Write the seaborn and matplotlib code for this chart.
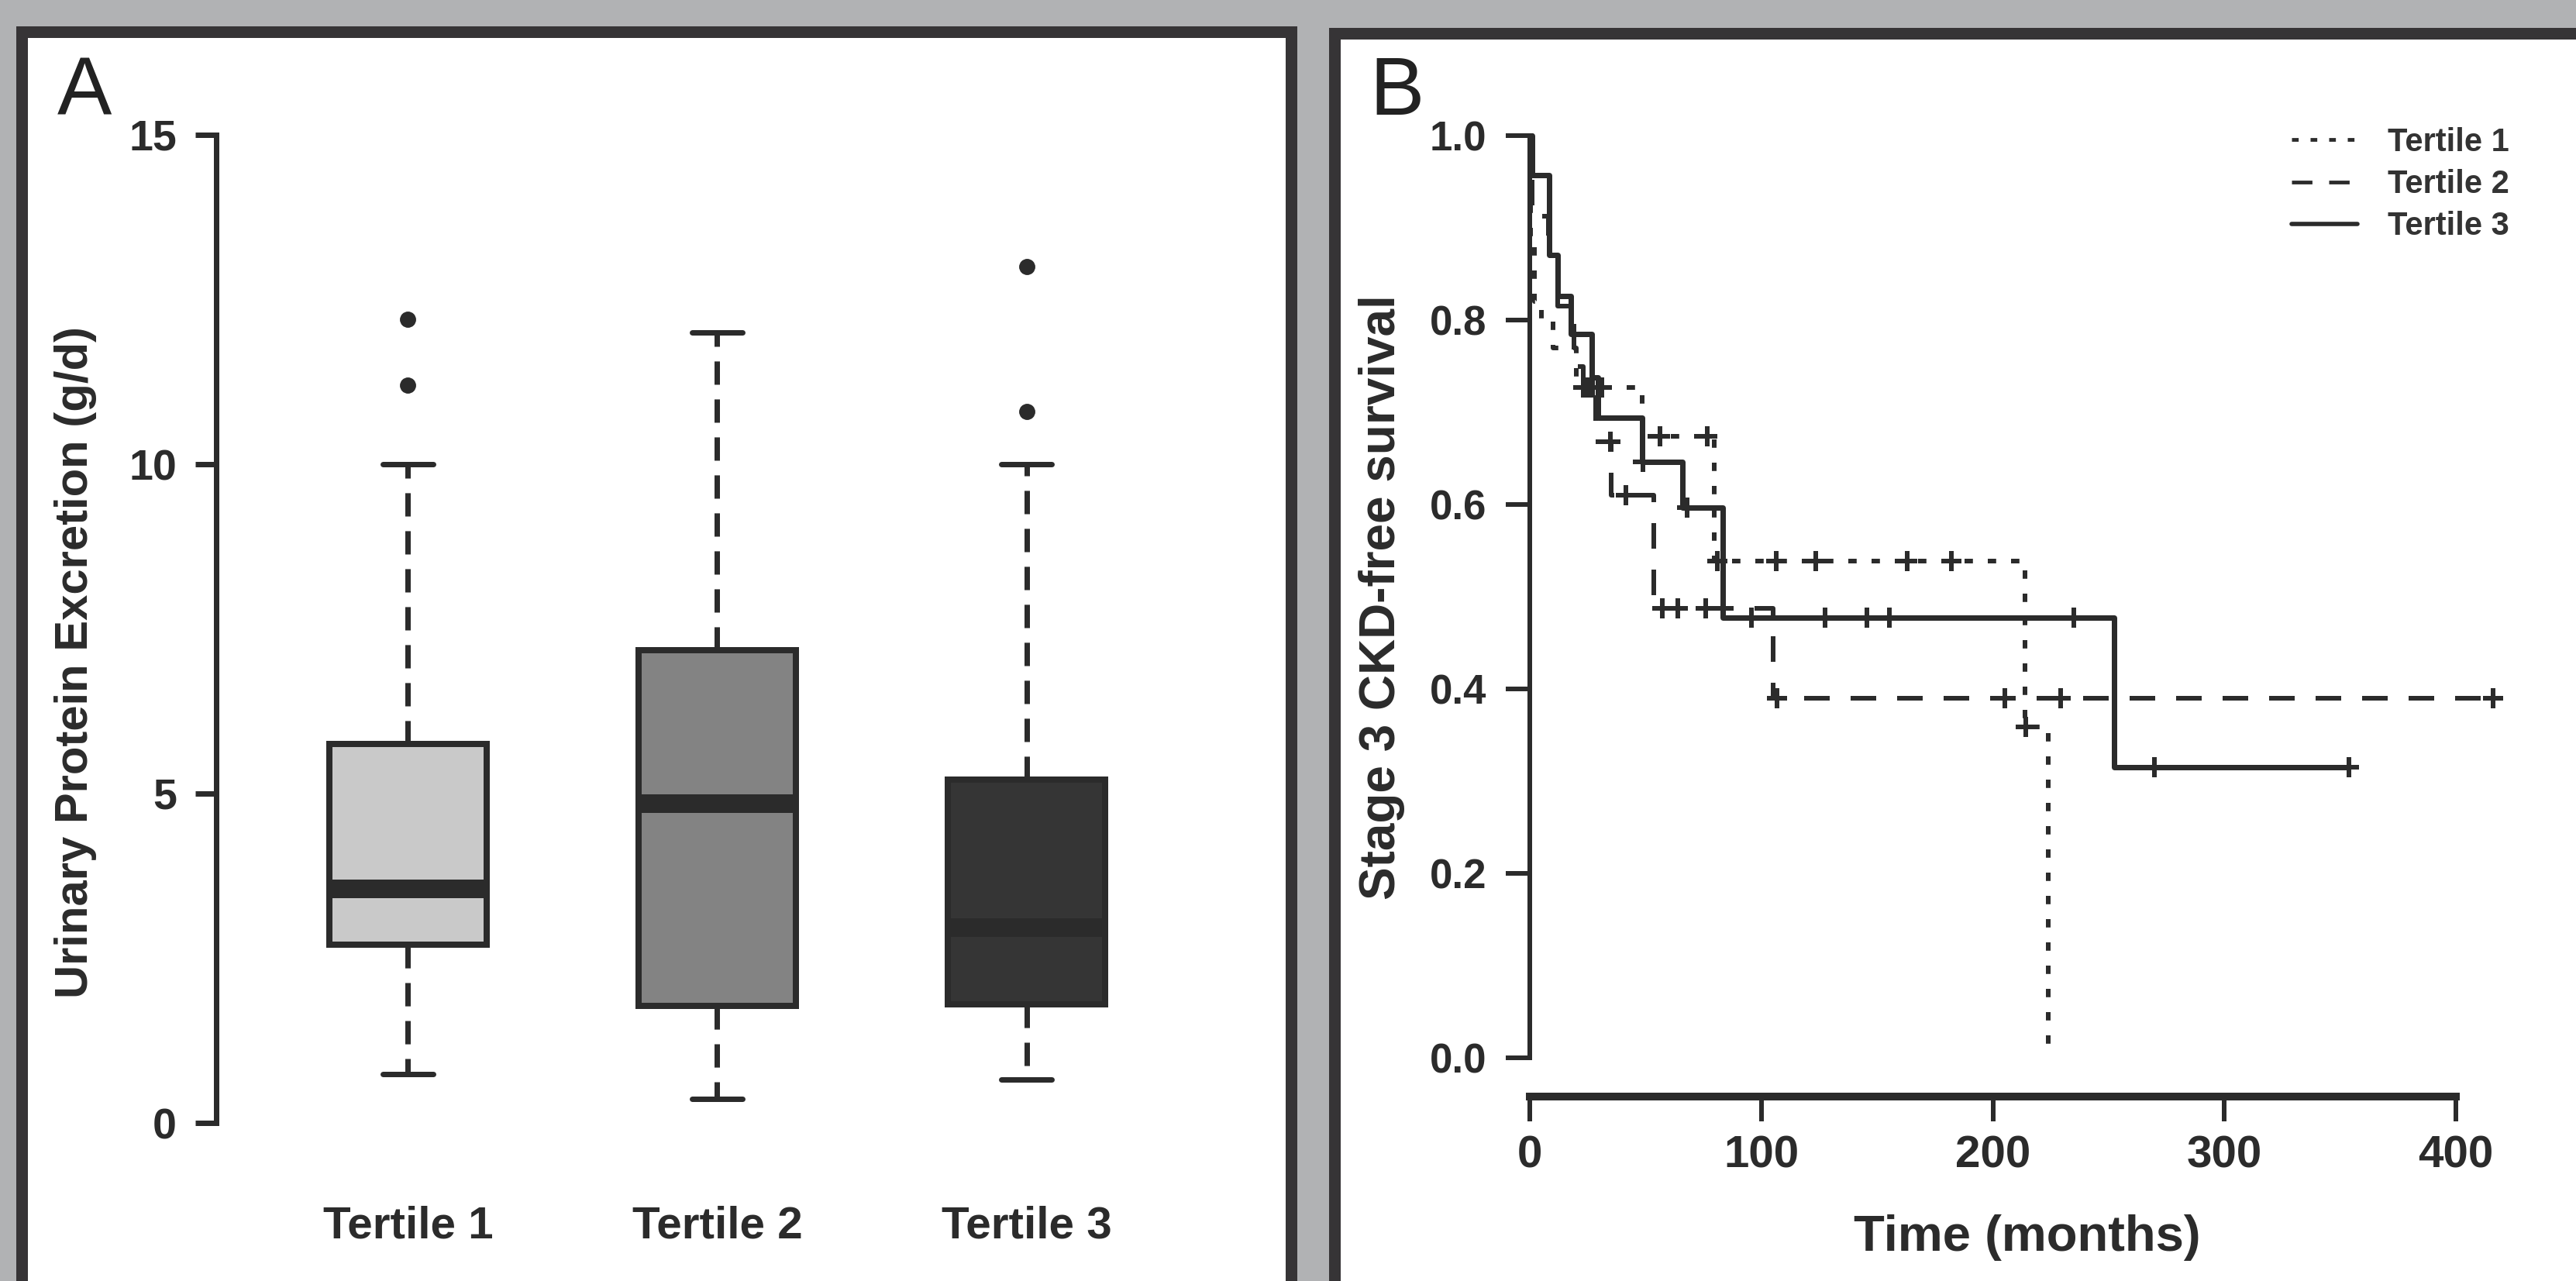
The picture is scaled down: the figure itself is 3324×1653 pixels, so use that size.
import numpy as np
import pandas as pd
import matplotlib
matplotlib.use('Agg')
import matplotlib.pyplot as plt
from matplotlib.patches import Rectangle
from matplotlib.lines import Line2D
import seaborn as sns

# ---- panel A: urinary protein excretion by tertile (five-number summaries)
groups = ['Tertile 1', 'Tertile 2', 'Tertile 3']
whislo = [0.74, 0.37, 0.66]
q1 = [2.71, 1.78, 1.80]
med = [3.55, 4.85, 2.96]
q3 = [5.75, 7.18, 5.21]
whishi = [10.0, 12.0, 10.0]
outliers = [[11.2, 12.2], [], [10.8, 13.0]]
box_colors = ['#c9c9c9', '#838383', '#353535']

# ---- panel B: Kaplan-Meier steps (time in months, survival)
t1_time = [0, 0.5, 2, 5, 10, 20, 48.6, 79.5, 213.9, 223.9]
t1_surv = [1.0, 0.88, 0.82, 0.80, 0.77, 0.727, 0.674, 0.539, 0.359, 0.0]
t1_end = 223.9
t1_cens = [23, 27, 31, 56.3, 76.5, 81, 106.3, 123.6, 163.0, 182.2, 214.3]

t2_time = [0, 1, 8, 12, 19, 23, 28.5, 35, 53.5, 105]
t2_surv = [1.0, 0.913, 0.87, 0.815, 0.75, 0.727, 0.668, 0.610, 0.487, 0.390]
t2_end = 416
t2_cens = [24.5, 26.5, 34.7, 41.5, 57.3, 63.9, 76, 106.8, 205.1, 229.3, 416]

t3_time = [0, 1, 8.3, 12.1, 17.8, 26.8, 29.5, 48.6, 65.9, 83.2, 252.5]
t3_surv = [1.0, 0.957, 0.871, 0.826, 0.785, 0.738, 0.694, 0.646, 0.597, 0.477, 0.315]
t3_end = 353.7
t3_cens = [49.0, 67.8, 95.7, 127.4, 145.7, 155.3, 235.0, 269.7, 353.7]

W, H = 3324, 1653
INK = '#2b2b2b'

sns.set_theme(style='ticks')
plt.rcParams['font.family'] = ['Liberation Sans', 'DejaVu Sans']
plt.rcParams['font.weight'] = 'bold'
plt.rcParams['axes.labelweight'] = 'bold'

fig = plt.figure(figsize=(W / 100, H / 100), dpi=100, facecolor='#b1b2b4')


def fx(x):
    return x / W


def fy(y):
    return 1 - y / H


def px(v):
    # pixels -> points
    return v * 0.72


# panel frames
for x0, y0, x1, y1 in [(20, 26, 1673, 1720), (1715, 28, 3400, 1720)]:
    fig.add_artist(Rectangle((fx(x0 + 7.5), fy(y1)), fx(x1 - x0 - 15), (y1 - y0 - 15) / H,
                             transform=fig.transFigure, facecolor='white',
                             edgecolor='#363436', linewidth=px(15), zorder=0))

fig.text(fx(74), fy(148), 'A', fontsize=76, fontweight='normal', color='#222222')
fig.text(fx(1767), fy(148), 'B', fontsize=76, fontweight='normal', color='#222222')

# ================= panel A
ylo, yhi = -0.6, 15.6
y0px, per = 1449, 85.0
bot, top = y0px - ylo * per, y0px - yhi * per
axA = fig.add_axes([fx(279), fy(bot), fx(1572 - 279), (bot - top) / H])
axA.set_facecolor('none')

stats = []
for i, g in enumerate(groups):
    stats.append(dict(label=g, whislo=whislo[i], q1=q1[i], med=med[i], q3=q3[i],
                      whishi=whishi[i], fliers=outliers[i]))

bp = axA.bxp(stats, positions=range(len(groups)), widths=0.51, capwidths=0.165,
             patch_artist=True,
             boxprops=dict(edgecolor=INK, linewidth=px(8)),
             medianprops=dict(color=INK, linewidth=px(24), solid_capstyle='butt'),
             whiskerprops=dict(color=INK, linewidth=px(7), linestyle=(0, (4.3, 2.7))),
             capprops=dict(color=INK, linewidth=px(7)),
             flierprops=dict(marker='o', markerfacecolor=INK, markeredgecolor=INK,
                             markersize=14))
for patch, c in zip(bp['boxes'], box_colors):
    patch.set_facecolor(c)

axA.set_xlim(-0.62, 2.62)
axA.set_ylim(ylo, yhi)
axA.set_yticks([0, 5, 10, 15])
for s in ['top', 'right', 'bottom']:
    axA.spines[s].set_visible(False)
axA.spines['left'].set_bounds(0, 15)
axA.spines['left'].set_linewidth(px(7))
axA.spines['left'].set_color(INK)
axA.tick_params(axis='y', length=px(27), width=px(7), color=INK, pad=px(24),
                labelsize=40, labelcolor=INK)
axA.tick_params(axis='x', length=0, pad=px(56), labelsize=42, labelcolor=INK)
axA.set_xticks(range(len(groups)))
axA.set_xticklabels(groups, fontweight='bold')
axA.set_ylabel('Urinary Protein Excretion (g/d)', fontsize=43, color=INK)
axA.yaxis.set_label_coords((125 - 279) / (1572 - 279), (bot - 855) / (bot - top))

# ================= panel B
xl, xr = 0, 430
yl, yh = -0.042, 1.045
xpx0, xper = 1974, 2.9875
ypx0, yper = 1365, 1190
left = xpx0 + xl * xper
right = xpx0 + xr * xper
bottomB = ypx0 - yl * yper
topB = ypx0 - yh * yper
axB = fig.add_axes([fx(left), fy(bottomB), fx(right - left), (bottomB - topB) / H])
axB.set_facecolor('none')

curves = [
    ('Tertile 1', t1_time, t1_surv, t1_end, t1_cens, (0, (1.8, 3.2)), px(6)),
    ('Tertile 2', t2_time, t2_surv, t2_end, t2_cens, (0, (5.5, 4.5)), px(6)),
    ('Tertile 3', t3_time, t3_surv, t3_end, t3_cens, '-', px(7)),
]
handles = []
for name, tt, ss, tend, cens, ls, lw in curves:
    xs = list(tt) + [tend]
    ys = list(ss) + [ss[-1]]
    df = pd.DataFrame({'time': xs, 'surv': ys})
    sns.lineplot(data=df, x='time', y='surv', ax=axB, estimator=None, sort=False,
                 drawstyle='steps-post', color=INK, linewidth=lw, linestyle=ls,
                 legend=False)
    # censor marks sit on the curve
    idx = np.searchsorted(np.asarray(tt), np.asarray(cens), side='right') - 1
    cs = np.asarray(ss)[idx]
    sns.scatterplot(x=cens, y=cs, ax=axB, marker='+', s=px(26) ** 2, color=INK,
                    linewidth=px(6), legend=False, zorder=3)
    handles.append(Line2D([], [], color=INK, linewidth=lw * 0.8, linestyle=ls, label=name))

axB.set_xlim(xl, xr)
axB.set_ylim(yl, yh)
axB.set_xticks([0, 100, 200, 300, 400])
axB.set_yticks([0.0, 0.2, 0.4, 0.6, 0.8, 1.0])
axB.set_yticklabels(['0.0', '0.2', '0.4', '0.6', '0.8', '1.0'])
for s in ['top', 'right']:
    axB.spines[s].set_visible(False)
axB.spines['left'].set_bounds(0, 1)
axB.spines['left'].set_linewidth(px(6))
axB.spines['left'].set_color(INK)
axB.spines['bottom'].set_bounds(0, 400)
axB.spines['bottom'].set_linewidth(px(10))
axB.spines['bottom'].set_color(INK)
axB.tick_params(axis='y', length=px(31), width=px(6), color=INK, pad=px(25),
                labelsize=38, labelcolor=INK)
axB.tick_params(axis='x', length=px(32), width=px(6), color=INK, pad=px(18),
                labelsize=42, labelcolor=INK)
axB.set_xlabel('Time (months)', fontsize=47, color=INK, labelpad=px(48))
axB.set_ylabel('Stage 3 CKD-free survival', fontsize=46, color=INK)
axB.yaxis.set_label_coords((1813 - left) / (right - left), (bottomB - 771) / (bottomB - topB))

leg = fig.legend(handles=handles, loc='upper left', bbox_to_anchor=(fx(2957), fy(164)),
                 frameon=False, fontsize=30, handlelength=2.05, handletextpad=0.93,
                 labelspacing=0.34, borderpad=0, borderaxespad=0)
for t in leg.get_texts():
    t.set_color('#333333')
    t.set_fontweight('bold')

fig.savefig('out.png', dpi=100, facecolor=fig.get_facecolor())
